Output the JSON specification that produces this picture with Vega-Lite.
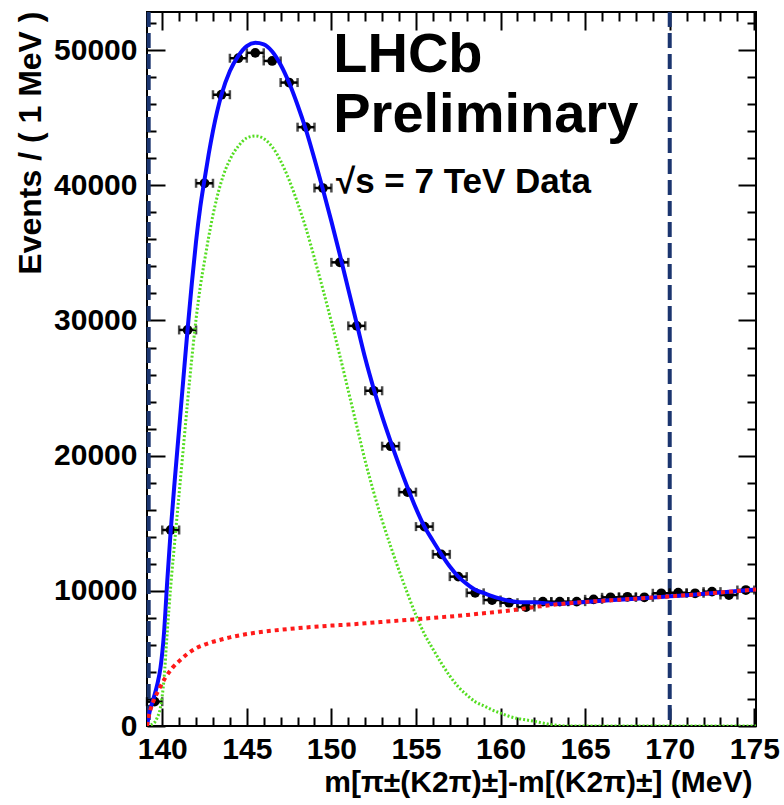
{
  "$schema": "https://vega.github.io/schema/vega-lite/v6.json",
  "width": 609,
  "height": 714,
  "autosize": {"type": "none"},
  "padding": {"left": 147, "top": 12, "right": 28, "bottom": 79},
  "background": "white",
  "config": {
    "view": {"stroke": "black", "strokeWidth": 2},
    "axis": {
      "domain": false, "grid": false,
      "labelFont": "Liberation Sans", "labelFontWeight": "bold", "labelFontSize": 30, "labelColor": "black",
      "tickColor": "black", "tickWidth": 2,
      "titleFont": "Liberation Sans", "titleFontWeight": "bold", "titleColor": "black"
    },
    "text": {"font": "Liberation Sans", "fontWeight": "bold", "color": "black"}
  },
  "datasets": {
    "data": [
      {"m": 139.55, "lo": 139.1, "hi": 140.0, "n": 1800},
      {"m": 140.5, "lo": 140.0, "hi": 141.0, "n": 14500},
      {"m": 141.5, "lo": 141.0, "hi": 142.0, "n": 29300},
      {"m": 142.5, "lo": 142.0, "hi": 143.0, "n": 40150},
      {"m": 143.5, "lo": 143.0, "hi": 144.0, "n": 46700},
      {"m": 144.5, "lo": 144.0, "hi": 145.0, "n": 49400},
      {"m": 145.5, "lo": 145.0, "hi": 146.0, "n": 49800},
      {"m": 146.5, "lo": 146.0, "hi": 147.0, "n": 49200},
      {"m": 147.5, "lo": 147.0, "hi": 148.0, "n": 47600},
      {"m": 148.5, "lo": 148.0, "hi": 149.0, "n": 44300},
      {"m": 149.5, "lo": 149.0, "hi": 150.0, "n": 39800},
      {"m": 150.5, "lo": 150.0, "hi": 151.0, "n": 34300},
      {"m": 151.5, "lo": 151.0, "hi": 152.0, "n": 29600},
      {"m": 152.5, "lo": 152.0, "hi": 153.0, "n": 24800},
      {"m": 153.5, "lo": 153.0, "hi": 154.0, "n": 20700},
      {"m": 154.5, "lo": 154.0, "hi": 155.0, "n": 17300},
      {"m": 155.5, "lo": 155.0, "hi": 156.0, "n": 14750},
      {"m": 156.5, "lo": 156.0, "hi": 157.0, "n": 12700},
      {"m": 157.5, "lo": 157.0, "hi": 158.0, "n": 11050},
      {"m": 158.5, "lo": 158.0, "hi": 159.0, "n": 9850},
      {"m": 159.5, "lo": 159.0, "hi": 160.0, "n": 9320},
      {"m": 160.5, "lo": 160.0, "hi": 161.0, "n": 9120},
      {"m": 161.5, "lo": 161.0, "hi": 162.0, "n": 8800},
      {"m": 162.5, "lo": 162.0, "hi": 163.0, "n": 9200},
      {"m": 163.5, "lo": 163.0, "hi": 164.0, "n": 9200},
      {"m": 164.5, "lo": 164.0, "hi": 165.0, "n": 9200},
      {"m": 165.5, "lo": 165.0, "hi": 166.0, "n": 9370},
      {"m": 166.5, "lo": 166.0, "hi": 167.0, "n": 9520},
      {"m": 167.5, "lo": 167.0, "hi": 168.0, "n": 9560},
      {"m": 168.5, "lo": 168.0, "hi": 169.0, "n": 9520},
      {"m": 169.5, "lo": 169.0, "hi": 170.0, "n": 9820},
      {"m": 170.5, "lo": 170.0, "hi": 171.0, "n": 9860},
      {"m": 171.5, "lo": 171.0, "hi": 172.0, "n": 9820},
      {"m": 172.5, "lo": 172.0, "hi": 173.0, "n": 9940},
      {"m": 173.5, "lo": 173.0, "hi": 174.0, "n": 9690},
      {"m": 174.5, "lo": 174.0, "hi": 175.0, "n": 10060}
    ],
    "signal": [
      {"m": 139.1, "n": 0}, {"m": 139.3, "n": 80}, {"m": 139.5, "n": 200}, {"m": 139.7, "n": 600},
      {"m": 139.9, "n": 1400}, {"m": 140.1, "n": 3400}, {"m": 140.3, "n": 7000}, {"m": 140.5, "n": 10300},
      {"m": 140.75, "n": 13800}, {"m": 141, "n": 17200}, {"m": 141.25, "n": 20600}, {"m": 141.5, "n": 24000},
      {"m": 141.75, "n": 27200}, {"m": 142, "n": 30100}, {"m": 142.25, "n": 32500}, {"m": 142.5, "n": 34400},
      {"m": 142.75, "n": 36200}, {"m": 143, "n": 37800}, {"m": 143.5, "n": 40300}, {"m": 144, "n": 41900},
      {"m": 144.5, "n": 42900}, {"m": 145, "n": 43500}, {"m": 145.5, "n": 43650}, {"m": 146, "n": 43450},
      {"m": 146.5, "n": 42850}, {"m": 147, "n": 41800}, {"m": 147.5, "n": 40400}, {"m": 148, "n": 38700},
      {"m": 148.5, "n": 36800}, {"m": 149, "n": 34600}, {"m": 149.5, "n": 32300}, {"m": 150, "n": 29900},
      {"m": 150.5, "n": 27400}, {"m": 151, "n": 24800}, {"m": 151.5, "n": 22200}, {"m": 152, "n": 19600},
      {"m": 152.5, "n": 17300}, {"m": 153, "n": 15200}, {"m": 153.5, "n": 13300}, {"m": 154, "n": 11500},
      {"m": 154.5, "n": 9800}, {"m": 155, "n": 8200}, {"m": 155.5, "n": 6800}, {"m": 156, "n": 5700},
      {"m": 156.5, "n": 4650}, {"m": 157, "n": 3700}, {"m": 157.5, "n": 2900}, {"m": 158, "n": 2300},
      {"m": 158.5, "n": 1800}, {"m": 159, "n": 1500}, {"m": 159.5, "n": 1200}, {"m": 160, "n": 950},
      {"m": 160.5, "n": 720}, {"m": 161, "n": 560}, {"m": 161.5, "n": 450}, {"m": 162, "n": 350},
      {"m": 162.5, "n": 220}, {"m": 163, "n": 100}, {"m": 163.5, "n": 30}, {"m": 164, "n": 0},
      {"m": 170, "n": 0}, {"m": 175.1, "n": 0}
    ],
    "background": [
      {"m": 139.1, "n": 0}, {"m": 139.2, "n": 700}, {"m": 139.3, "n": 1200}, {"m": 139.5, "n": 1900},
      {"m": 139.8, "n": 2700}, {"m": 140.2, "n": 3600}, {"m": 140.6, "n": 4300}, {"m": 141, "n": 4800},
      {"m": 141.5, "n": 5350}, {"m": 142, "n": 5750}, {"m": 142.5, "n": 6020}, {"m": 143, "n": 6230},
      {"m": 143.5, "n": 6400}, {"m": 144, "n": 6560}, {"m": 145, "n": 6800}, {"m": 146, "n": 6980},
      {"m": 147, "n": 7120}, {"m": 148, "n": 7240}, {"m": 149, "n": 7340}, {"m": 150, "n": 7430},
      {"m": 151, "n": 7500}, {"m": 152, "n": 7600}, {"m": 153, "n": 7700}, {"m": 154, "n": 7800},
      {"m": 155, "n": 7900}, {"m": 156, "n": 8000}, {"m": 157, "n": 8100}, {"m": 158, "n": 8210},
      {"m": 159, "n": 8340}, {"m": 160, "n": 8470}, {"m": 161, "n": 8620}, {"m": 162, "n": 8800},
      {"m": 163, "n": 8950}, {"m": 164, "n": 9080}, {"m": 165, "n": 9180}, {"m": 166, "n": 9260},
      {"m": 167, "n": 9340}, {"m": 168, "n": 9420}, {"m": 169, "n": 9500}, {"m": 170, "n": 9590},
      {"m": 171, "n": 9680}, {"m": 172, "n": 9780}, {"m": 173, "n": 9880}, {"m": 174, "n": 9980},
      {"m": 175.1, "n": 10100}
    ],
    "total": [
      {"m": 139.1, "n": 0}, {"m": 139.2, "n": 740}, {"m": 139.3, "n": 1280}, {"m": 139.5, "n": 2100},
      {"m": 139.7, "n": 3030}, {"m": 139.9, "n": 4330}, {"m": 140.1, "n": 6780}, {"m": 140.3, "n": 10780},
      {"m": 140.5, "n": 14430}, {"m": 140.75, "n": 18330}, {"m": 141, "n": 22000}, {"m": 141.25, "n": 25700},
      {"m": 141.5, "n": 29350}, {"m": 141.75, "n": 32750}, {"m": 142, "n": 35850}, {"m": 142.25, "n": 38390},
      {"m": 142.5, "n": 40420}, {"m": 142.75, "n": 42330}, {"m": 143, "n": 44030}, {"m": 143.5, "n": 46700},
      {"m": 144, "n": 48460}, {"m": 144.5, "n": 49580}, {"m": 145, "n": 50300}, {"m": 145.5, "n": 50540},
      {"m": 146, "n": 50430}, {"m": 146.5, "n": 49900}, {"m": 147, "n": 48920}, {"m": 147.5, "n": 47580},
      {"m": 148, "n": 45940}, {"m": 148.5, "n": 44090}, {"m": 149, "n": 41940}, {"m": 149.5, "n": 39685},
      {"m": 150, "n": 37330}, {"m": 150.5, "n": 34865}, {"m": 151, "n": 32300}, {"m": 151.5, "n": 29750},
      {"m": 152, "n": 27200}, {"m": 152.5, "n": 24950}, {"m": 153, "n": 22900}, {"m": 153.5, "n": 21050},
      {"m": 154, "n": 19300}, {"m": 154.5, "n": 17650}, {"m": 155, "n": 16100}, {"m": 155.5, "n": 14750},
      {"m": 156, "n": 13700}, {"m": 156.5, "n": 12700}, {"m": 157, "n": 11800}, {"m": 157.5, "n": 11055},
      {"m": 158, "n": 10510}, {"m": 158.5, "n": 10075}, {"m": 159, "n": 9840}, {"m": 159.5, "n": 9605},
      {"m": 160, "n": 9420}, {"m": 160.5, "n": 9265}, {"m": 161, "n": 9180}, {"m": 161.5, "n": 9160},
      {"m": 162, "n": 9150}, {"m": 162.5, "n": 9095}, {"m": 163, "n": 9050}, {"m": 163.5, "n": 9045},
      {"m": 164, "n": 9080}, {"m": 165, "n": 9180}, {"m": 166, "n": 9260}, {"m": 167, "n": 9340},
      {"m": 168, "n": 9420}, {"m": 169, "n": 9500}, {"m": 170, "n": 9590}, {"m": 171, "n": 9680},
      {"m": 172, "n": 9780}, {"m": 173, "n": 9880}, {"m": 174, "n": 9980}, {"m": 175.1, "n": 10100}
    ]
  },
  "resolve": {"axis": {"x": "independent", "y": "independent"}},
  "layer": [
    {
      "data": {"values": [{}]},
      "mark": {"type": "rule", "color": "#1b356f", "strokeWidth": 4, "strokeDash": [15, 6]},
      "encoding": {
        "x": {"datum": 139.2, "type": "quantitative", "scale": {"domain": [139.1, 175.1], "nice": false, "zero": false}, "axis": null}
      }
    },
    {
      "data": {"values": [{}]},
      "mark": {"type": "rule", "color": "#1b356f", "strokeWidth": 4, "strokeDash": [15, 6]},
      "encoding": {
        "x": {"datum": 170, "type": "quantitative", "scale": {"domain": [139.1, 175.1], "nice": false, "zero": false}, "axis": null}
      }
    },
    {
      "data": {"name": "data"},
      "mark": {"type": "errorbar", "ticks": true, "size": 9, "thickness": 2.5, "color": "black"},
      "encoding": {
        "x": {"field": "lo", "type": "quantitative", "scale": {"domain": [139.1, 175.1], "nice": false, "zero": false}, "axis": null},
        "x2": {"field": "hi"},
        "y": {"field": "n", "type": "quantitative", "scale": {"domain": [0, 52820], "nice": false}, "axis": null}
      }
    },
    {
      "data": {"name": "data"},
      "mark": {"type": "point", "filled": true, "size": 95, "color": "black", "opacity": 1},
      "encoding": {
        "x": {"field": "m", "type": "quantitative", "scale": {"domain": [139.1, 175.1], "nice": false, "zero": false},
          "axis": {
            "orient": "bottom",
            "values": [140,141,142,143,144,145,146,147,148,149,150,151,152,153,154,155,156,157,158,159,160,161,162,163,164,165,166,167,168,169,170,171,172,173,174,175],
            "labelExpr": "datum.value % 5 === 0 ? datum.label : ''",
            "tickSize": {"condition": {"test": "datum.value % 5 === 0", "value": -18}, "value": -9},
            "labelPadding": 26, "labelFlush": false, "labelOverlap": false,
            "title": "m[π±(K2π)±]-m[(K2π)±] (MeV)", "titleFontSize": 30,
            "titleAnchor": "end", "titleAlign": "right", "titleBaseline": "alphabetic", "titleX": 605, "titleY": 65
          }
        },
        "y": {"field": "n", "type": "quantitative", "scale": {"domain": [0, 52820], "nice": false},
          "axis": {
            "orient": "left",
            "values": [0,2000,4000,6000,8000,10000,12000,14000,16000,18000,20000,22000,24000,26000,28000,30000,32000,34000,36000,38000,40000,42000,44000,46000,48000,50000,52000],
            "format": "d",
            "labelExpr": "datum.value % 10000 === 0 ? datum.label : ''",
            "tickSize": {"condition": {"test": "datum.value % 10000 === 0", "value": -18}, "value": -9},
            "labelPadding": 28, "labelOverlap": false,
            "title": "Events / ( 1 MeV )", "titleFontSize": 32, "titleAngle": -90,
            "titleAnchor": "end", "titleAlign": "right", "titleBaseline": "middle", "titleX": -117, "titleY": -1
          }
        }
      }
    },
    {
      "data": {"name": "total"},
      "mark": {"type": "line", "color": "#0a0aff", "strokeWidth": 4, "interpolate": "monotone", "clip": true},
      "encoding": {
        "x": {"field": "m", "type": "quantitative", "scale": {"domain": [139.1, 175.1], "nice": false, "zero": false},
          "axis": {
            "orient": "top",
            "values": [140,141,142,143,144,145,146,147,148,149,150,151,152,153,154,155,156,157,158,159,160,161,162,163,164,165,166,167,168,169,170,171,172,173,174,175],
            "labels": false,
            "tickSize": {"condition": {"test": "datum.value % 5 === 0", "value": -18}, "value": -9},
            "title": null
          }
        },
        "y": {"field": "n", "type": "quantitative", "scale": {"domain": [0, 52820], "nice": false},
          "axis": {
            "orient": "right",
            "values": [0,2000,4000,6000,8000,10000,12000,14000,16000,18000,20000,22000,24000,26000,28000,30000,32000,34000,36000,38000,40000,42000,44000,46000,48000,50000,52000],
            "labels": false,
            "tickSize": {"condition": {"test": "datum.value % 10000 === 0", "value": -18}, "value": -9},
            "title": null
          }
        }
      }
    },
    {
      "data": {"name": "signal"},
      "mark": {"type": "line", "color": "#55dd22", "strokeWidth": 3, "strokeDash": [2, 2], "interpolate": "monotone", "clip": true},
      "encoding": {
        "x": {"field": "m", "type": "quantitative", "scale": {"domain": [139.1, 175.1], "nice": false, "zero": false}, "axis": null},
        "y": {"field": "n", "type": "quantitative", "scale": {"domain": [0, 52820], "nice": false}, "axis": null}
      }
    },
    {
      "data": {"name": "background"},
      "mark": {"type": "line", "color": "#ff1a1a", "strokeWidth": 4, "strokeDash": [4, 4], "interpolate": "monotone", "clip": true},
      "encoding": {
        "x": {"field": "m", "type": "quantitative", "scale": {"domain": [139.1, 175.1], "nice": false, "zero": false}, "axis": null},
        "y": {"field": "n", "type": "quantitative", "scale": {"domain": [0, 52820], "nice": false}, "axis": null}
      }
    },
    {
      "data": {"values": [{}]},
      "mark": {"type": "text", "align": "left", "baseline": "alphabetic", "fontSize": 56},
      "encoding": {
        "x": {"datum": 150.11, "type": "quantitative", "scale": {"domain": [139.1, 175.1], "nice": false, "zero": false}, "axis": null},
        "y": {"datum": 48404, "type": "quantitative", "scale": {"domain": [0, 52820], "nice": false}, "axis": null},
        "text": {"value": "LHCb"}
      }
    },
    {
      "data": {"values": [{}]},
      "mark": {"type": "text", "align": "left", "baseline": "alphabetic", "fontSize": 56},
      "encoding": {
        "x": {"datum": 150.11, "type": "quantitative", "scale": {"domain": [139.1, 175.1], "nice": false, "zero": false}, "axis": null},
        "y": {"datum": 43965, "type": "quantitative", "scale": {"domain": [0, 52820], "nice": false}, "axis": null},
        "text": {"value": "Preliminary"}
      }
    },
    {
      "data": {"values": [{}]},
      "mark": {"type": "text", "align": "left", "baseline": "alphabetic", "fontSize": 35},
      "encoding": {
        "x": {"datum": 150.27, "type": "quantitative", "scale": {"domain": [139.1, 175.1], "nice": false, "zero": false}, "axis": null},
        "y": {"datum": 39408, "type": "quantitative", "scale": {"domain": [0, 52820], "nice": false}, "axis": null},
        "text": {"value": "√s = 7 TeV Data"}
      }
    }
  ]
}
